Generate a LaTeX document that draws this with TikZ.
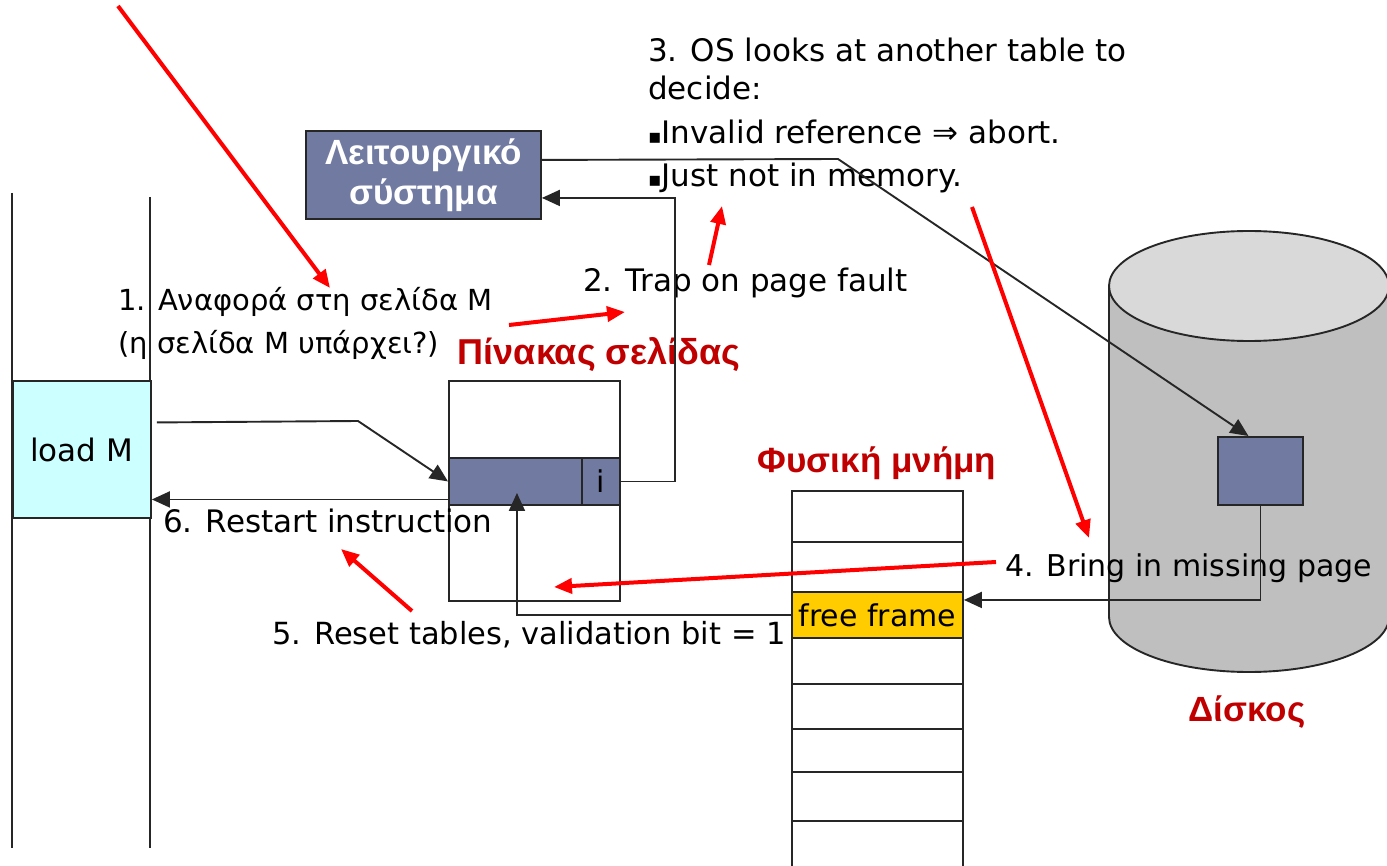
\documentclass[tikz,border=0pt]{standalone}
\usepackage{fontspec}
\setmainfont{DejaVu Sans}
\newfontfamily\labelfont{Liberation Sans}
\usetikzlibrary{arrows.meta}
\definecolor{slate}{HTML}{717BA1}
\definecolor{cyanbox}{HTML}{CCFFFF}
\definecolor{frameyellow}{HTML}{FFCC00}
\definecolor{darkred}{HTML}{C00000}
\definecolor{diskbody}{HTML}{BFBFBF}
\definecolor{disktop}{HTML}{D9D9D9}
\newcommand{\sqbullet}{{\fontsize{20}{20}\selectfont ▪}}
\tikzset{
  wire/.style={line width=1.9pt, draw=black!85},
  tip/.style={-{Triangle[length=18pt,width=16pt]}},
  redarrow/.style={draw=red, line width=4pt, -{Triangle[length=18pt,width=15pt]}},
  box/.style={draw=black!85, line width=1.9pt, inner sep=0, anchor=north west},
  txt/.style={font=\fontsize{31}{36}\selectfont, inner sep=0, anchor=west},
  redlbl/.style={font=\labelfont\bfseries\fontsize{35}{40}\selectfont, text=darkred, inner sep=0}
}
\begin{document}
\begin{tikzpicture}[x=1pt, y=-1pt]
\path[clip] (0,0) rectangle (1387,866);
\fill[white] (0,0) rectangle (1387,866);

% process address space
\draw[wire] (12,193) -- (12,848);
\draw[wire] (150,197) -- (150,848);
\node[box, fill=cyanbox, minimum width=138, minimum height=137] (load) at (12,380) {};
\node[txt] (loadtxt) at (30,450) {load M};

% operating system
\node[box, fill=slate, minimum width=235, minimum height=88, text=white,
      align=center, font=\labelfont\bfseries\fontsize{35}{40}\selectfont] (os) at (305,130)
      {Λειτουργικό\\σύστημα};

% page table
\node[box, minimum width=171, minimum height=220] (ptab) at (448,380) {};
\node[box, fill=slate, minimum width=133, minimum height=47] (row) at (448,457) {};
\node[box, fill=slate, minimum width=38, minimum height=47,
      font=\fontsize{30}{34}\selectfont] (vbit) at (581,457) {i};
\node[redlbl, font=\labelfont\bfseries\fontsize{36}{40}\selectfont] (ptlbl) at (599,355) {Πίνακας σελίδας};

% physical memory
\node[box, minimum width=171, minimum height=420] (mem) at (791,490) {};
\foreach \yy in {542,684,729,772,821} \draw[wire] (791,\yy) -- (962,\yy);
\node[box, fill=frameyellow, minimum width=171, minimum height=46,
      font=\fontsize{30}{34}\selectfont] (ff) at (791,591) {free frame};
\node[redlbl] (memlbl) at (877,463) {Φυσική μνήμη};

% backing store
\path[draw=black!85, line width=1.9pt, fill=diskbody] (1109,286) -- (1109,617)
  arc[start angle=180, end angle=360, x radius=140pt, y radius=55pt] -- (1389,286) -- cycle;
\draw[draw=black!85, line width=1.9pt, fill=disktop] (1249,286) ellipse [x radius=140pt, y radius=55pt];
\node[box, fill=slate, minimum width=85, minimum height=68] (dpage) at (1217,436) {};
\node[redlbl] (disklbl) at (1247,712) {Δίσκος};

% step texts
\node[txt] (s3a) at (648,50) {3. OS looks at another table to};
\node[txt] (s3b) at (648,88) {decide:};
\node[txt] (s3c) at (648,132) {\sqbullet Invalid reference ⇒ abort.};
\node[txt] (s3d) at (648,178) {\sqbullet Just not in memory.};
\node[txt] (s2) at (583,283) {2. Trap on page fault};
\node[txt, font=\fontsize{29}{34}\selectfont] (s1a) at (118,302) {1. Αναφορά στη σελίδα Μ};
\node[txt, font=\fontsize{29}{34}\selectfont] (s1b) at (118,345) {(η σελίδα Μ υπάρχει?)};
\node[txt] (s6) at (163,521) {6. Restart instruction};
\node[txt, font=\fontsize{30.5}{36}\selectfont] (s5) at (272,635) {5. Reset tables, validation bit = 1};
\node[txt, font=\fontsize{30}{36}\selectfont] (s4) at (1005,568) {4. Bring in missing page};

% control flow connectors
\coordinate (bend1) at (358,421);
\draw[wire, tip] ([xshift=5pt, yshift=27pt]load.east) -- (bend1) -- (row.west);
\draw[wire, tip] (vbit.east) -- ++(54,0) |- ([yshift=-23pt]os.east);
\coordinate (bend2) at (838,159);
\draw[wire, tip] ([yshift=15pt]os.east) -- (bend2) -- ([xshift=-12pt]dpage.north);
\draw[wire, tip] (dpage.south) |- ([yshift=15pt]ff.east);
\draw[wire, tip] (ff.west) -| ([xshift=1.5pt, yshift=-11.5pt]row.center);
\draw[wire, tip] ([yshift=-18pt]row.west) -- ([yshift=-18pt]row.west -| load.east);

% red step pointers
\coordinate (r1a) at (118,6);    \coordinate (r1b) at (330,288);
\coordinate (r2a) at (509,325);  \coordinate (r2b) at (625,312);
\coordinate (r3a) at (709,265);  \coordinate (r3b) at (722,206);
\coordinate (r4a) at (972,207);  \coordinate (r4b) at (1089,538);
\coordinate (r5a) at (996,562);  \coordinate (r5b) at (554,587);
\coordinate (r6a) at (412,611);  \coordinate (r6b) at (341,549);
\draw[redarrow] (r1a) -- (r1b);
\draw[redarrow] (r2a) -- (r2b);
\draw[redarrow] (r3a) -- (r3b);
\draw[redarrow] (r4a) -- (r4b);
\draw[redarrow] (r5a) -- (r5b);
\draw[redarrow] (r6a) -- (r6b);
\end{tikzpicture}
\end{document}
